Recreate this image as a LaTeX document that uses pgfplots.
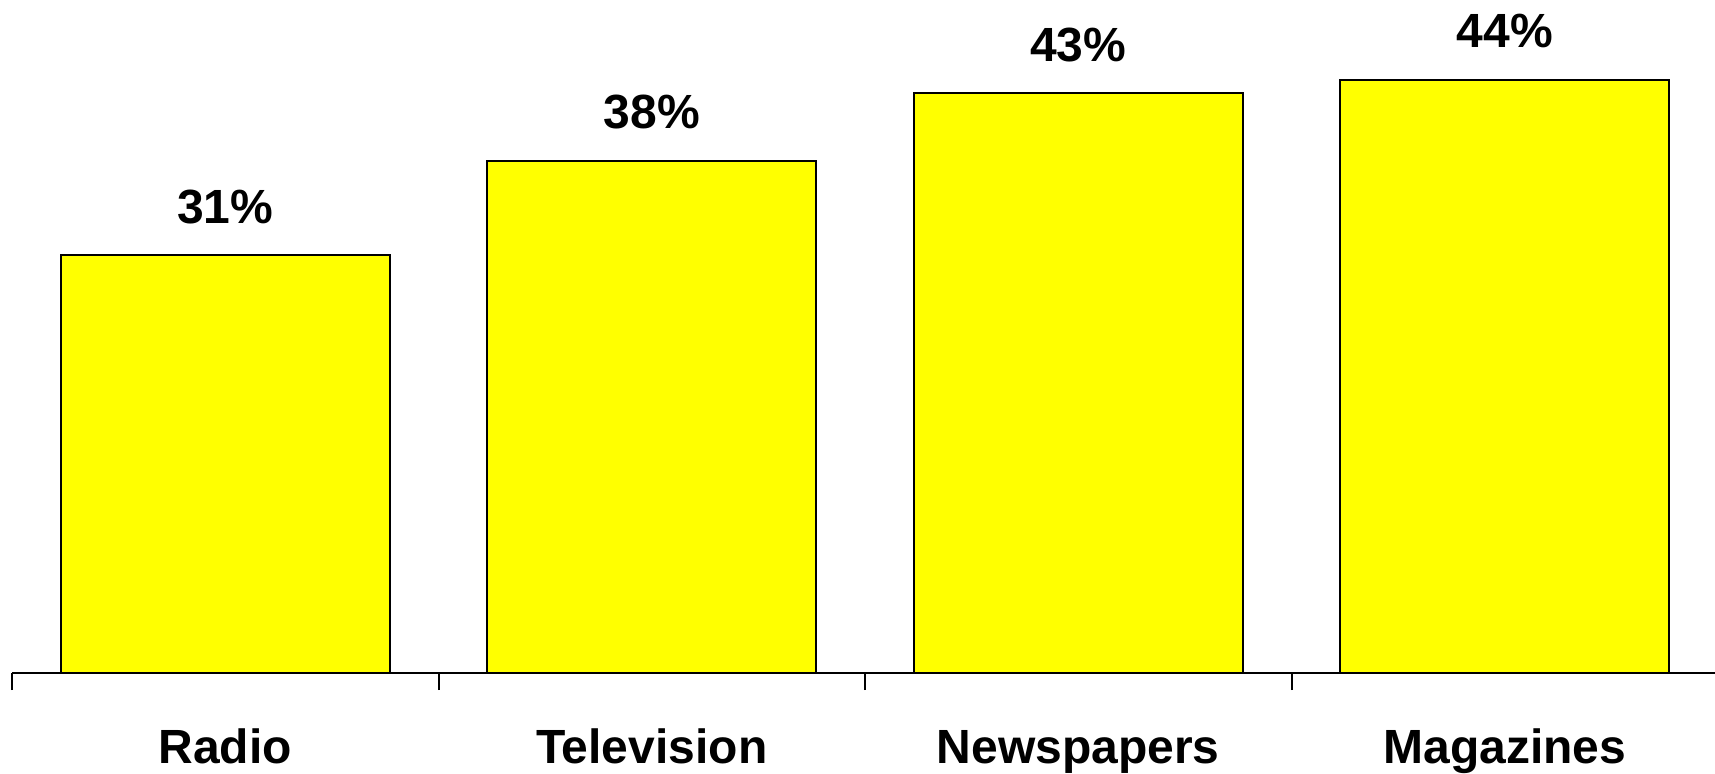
\documentclass[border=0pt]{standalone}
\usepackage{fontspec}
\setmainfont{Liberation Sans}
\usepackage{pgfplots}
\pgfplotsset{compat=1.18}
\definecolor{baryellow}{RGB}{255,255,0}
\begin{document}
\begin{tikzpicture}
\useasboundingbox (0,0) rectangle (857.5pt,386.5pt);
\begin{axis}[
  at={(6pt,50pt)}, anchor=south west,
  scale only axis, width=853pt, height=323.5pt,
  xmin=-0.5, xmax=3.5, ymin=0, ymax=48,
  clip=false,
  /pgf/number format/assume math mode=true,
  axis x line=bottom, axis y line=none,
  axis line style={-, black, line width=1pt},
  ytick=\empty,
  xtick={0,1,2,3},
  xticklabels={Radio,Television,Newspapers,Magazines},
  minor xtick={-0.5,0.5,1.5,2.5,3.5},
  major tick length=0pt, minor tick length=8.5pt,
  tick align=outside,
  tick style={black, line width=1pt},
  xticklabel style={font=\fontsize{24}{24}\selectfont\bfseries, anchor=base, yshift=-45pt},
  ybar, bar width=164.5pt,
  point meta=y,
  nodes near coords={\pgfmathprintnumber{\pgfplotspointmeta}\%},
  nodes near coords style={font=\fontsize{24}{24}\selectfont\bfseries, anchor=base, yshift=16pt, inner sep=0pt},
]
\addplot[fill=baryellow, draw=black, line width=1pt] coordinates {(0,31) (1,38) (2,43) (3,44)};
\end{axis}
\end{tikzpicture}
\end{document}
